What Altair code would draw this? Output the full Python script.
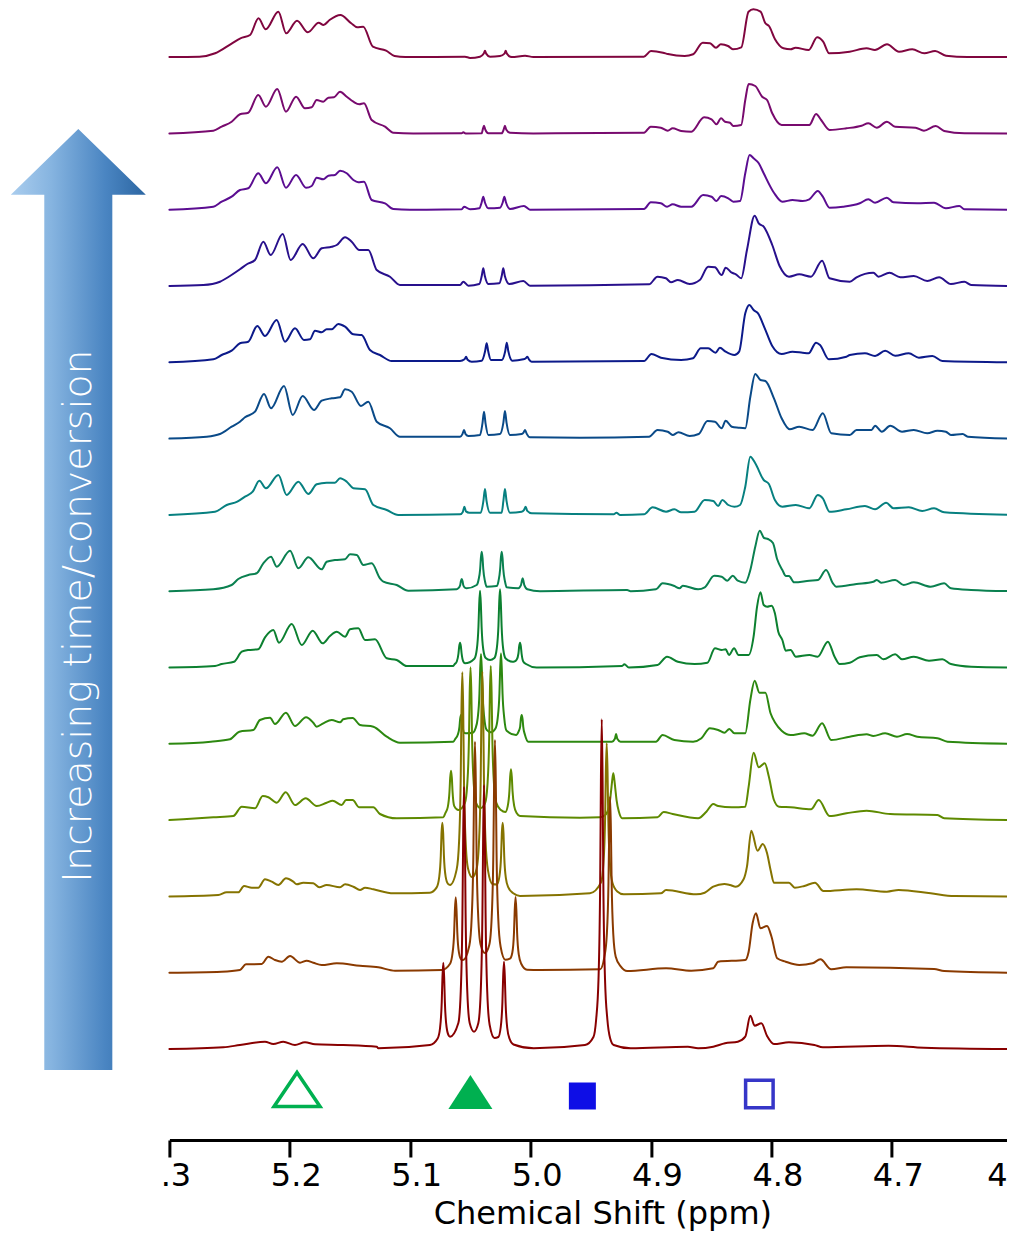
import altair as alt
import pandas as pd

# ---------------- data ----------------
X_TICKS = [5.3, 5.2, 5.1, 5.0, 4.9, 4.8, 4.7, 4.6]
STACK_STEP = 76.3          # vertical offset between consecutive spectra (a.u.)
AXIS_TITLE = "Chemical Shift (ppm)"
ARROW_LABEL = ["Increasing time/conversion"]

# bottom (0, earliest) -> top (13, latest)
LINE_COLORS = ["#880000", "#8a3a00", "#857300", "#5e8a00", "#2c8810", "#0c8030",
               "#0a8050", "#078080", "#0a4a88", "#0c1a8a", "#28108c", "#5b0d91",
               "#780a6e", "#80063f"]

# each spectrum: (chemical shift ppm, intensity a.u.)
SPEC_00 = [(5.300, 0.0), (5.2552, 1.7), (5.2414, 4.0), (5.2206, 7.3), (5.2137, 5.0), (5.2054, 7.3), (5.1957, 4.0), (5.1874, 6.7), (5.1791, 4.7), (5.1556, 4.0), (5.1278, 2.3), (5.1265, 0.7), (5.0836, 4.0),
           (5.0772, 10.5), (5.0752, 21.0), (5.0738, 47.0), (5.0732, 72.0), (5.0725, 86.3), (5.0718, 72.0), (5.0712, 47.0), (5.0698, 22.0), (5.0678, 13.0), (5.0669, 12.3),
           (5.0600, 26.0), (5.0580, 58.0), (5.0566, 136.0), (5.0560, 213.0), (5.0553, 262.3), (5.0546, 213.0), (5.0540, 136.0), (5.0526, 58.0), (5.0506, 26.0), (5.0470, 17.3),
           (5.0434, 26.0), (5.0414, 58.0), (5.0400, 137.0), (5.0394, 214.0), (5.0387, 264.0), (5.0380, 214.0), (5.0374, 136.0), (5.0360, 57.0), (5.0340, 24.0), (5.0300, 11.0),
           (5.0268, 12.0), (5.0248, 22.0), (5.0234, 47.0), (5.0228, 72.0), (5.0221, 87.3), (5.0214, 72.0), (5.0208, 47.0), (5.0194, 21.0), (5.0174, 10.0), (5.0142, 4.5), (4.9974, 0.7),
           (4.9548, 4.0), (4.9478, 12.0), (4.9456, 29.0), (4.9436, 70.0), (4.9422, 169.0), (4.9416, 268.0), (4.9409, 329.7), (4.9402, 268.0), (4.9396, 169.0), (4.9382, 70.0), (4.9362, 29.0), (4.9340, 11.0), (4.9310, 4.0),
           (4.9170, 0.7), (4.8694, 2.3), (4.8609, 0.7), (4.8483, 2.3), (4.8385, 5.7), (4.8279, 7.3), (4.8217, 12.3), (4.8175, 33.3), (4.8139, 23.3), (4.8083, 25.7), (4.8036, 13.0), (4.7979, 5.0), (4.7854, 6.7), (4.7643, 4.0), (4.7573, 1.7), (4.7027, 3.3), (4.6733, 1.3), (4.600, 0.0)]

SPEC_01 = [(5.300, 0.0), (5.2566, 1.0), (5.2414, 2.7), (5.2364, 8.4), (5.2233, 8.7), (5.2178, 16.0), (5.2123, 12.7), (5.2067, 11.0), (5.1998, 16.7), (5.1915, 10.0), (5.1860, 12.0), (5.1805, 10.0), (5.1735, 7.7), (5.1610, 9.4), (5.1417, 7.0), (5.1265, 5.4), (5.1126, 2.0), (5.0738, 2.7),
           (5.0669, 9.0), (5.0649, 19.0), (5.0635, 40.0), (5.0629, 62.0), (5.0622, 75.4), (5.0615, 62.0), (5.0609, 41.0), (5.0595, 20.0), (5.0575, 13.0), (5.0561, 12.7),
           (5.0509, 27.0), (5.0489, 56.0), (5.0475, 122.0), (5.0469, 190.0), (5.0462, 231.0), (5.0455, 190.0), (5.0449, 122.0), (5.0435, 56.0), (5.0415, 28.0), (5.0379, 19.7),
           (5.0343, 28.0), (5.0323, 56.0), (5.0309, 123.0), (5.0303, 191.0), (5.0296, 232.7), (5.0289, 191.0), (5.0283, 122.0), (5.0269, 55.0), (5.0249, 26.0), (5.0210, 13.0),
           (5.0172, 14.0), (5.0152, 20.0), (5.0138, 40.0), (5.0132, 62.0), (5.0125, 75.7), (5.0118, 62.0), (5.0112, 40.0), (5.0098, 18.0), (5.0078, 9.0), (5.0030, 3.0), (4.9922, 2.7),
           (4.9422, 3.4), (4.9387, 16.0), (4.9367, 38.0), (4.9353, 91.0), (4.9347, 143.0), (4.9340, 176.0), (4.9333, 143.0), (4.9327, 91.0), (4.9313, 38.0), (4.9293, 16.0), (4.9250, 6.0), (4.9198, 1.7),
           (4.8875, 4.4), (4.8665, 2.0), (4.8483, 4.4), (4.8442, 11.0), (4.8217, 12.7), (4.8189, 21.0), (4.8156, 49.4), (4.8128, 59.4), (4.8091, 44.4), (4.8036, 46.7), (4.7999, 36.0), (4.7952, 14.4), (4.7881, 11.0), (4.7769, 7.7), (4.7658, 9.4), (4.7593, 13.4), (4.7503, 3.4), (4.7377, 5.4), (4.6649, 3.7), (4.6565, 1.7), (4.600, 0.0)]

SPEC_02 = [(5.300, 0.0), (5.2594, 1.4), (5.2524, 4.1), (5.2428, 4.1), (5.2380, 10.4), (5.2316, 8.7), (5.2262, 8.7), (5.2206, 17.1), (5.2150, 14.7), (5.2095, 11.4), (5.2032, 18.1), (5.1971, 14.7), (5.1943, 12.1), (5.1888, 13.7), (5.1805, 13.1), (5.1755, 9.1), (5.1694, 11.4), (5.1583, 9.1), (5.1541, 12.1), (5.1472, 9.7), (5.1417, 6.4), (5.1375, 8.7), (5.1306, 7.1), (5.1140, 3.1), (5.0836, 3.7),
           (5.0780, 9.0), (5.0760, 18.5), (5.0746, 40.5), (5.0740, 63.0), (5.0733, 73.7), (5.0726, 63.0), (5.0720, 41.0), (5.0706, 20.0), (5.0686, 12.5), (5.0669, 11.4),
           (5.0614, 27.0), (5.0594, 55.0), (5.0580, 122.0), (5.0574, 189.0), (5.0567, 224.1), (5.0560, 189.0), (5.0554, 122.0), (5.0540, 56.0), (5.0520, 28.0), (5.0484, 19.1),
           (5.0448, 28.0), (5.0428, 56.0), (5.0414, 122.0), (5.0408, 189.0), (5.0401, 224.7), (5.0394, 189.0), (5.0388, 122.0), (5.0374, 55.0), (5.0354, 26.0), (5.0317, 12.5),
           (5.0279, 12.0), (5.0259, 20.0), (5.0245, 41.0), (5.0239, 63.0), (5.0232, 73.7), (5.0225, 63.0), (5.0219, 40.0), (5.0205, 18.0), (5.0185, 9.0), (5.0144, 3.1), (5.0088, 0.4),
           (4.9507, 3.1), (4.9415, 14.0), (4.9395, 33.0), (4.9381, 79.0), (4.9375, 125.0), (4.9368, 153.1), (4.9361, 125.0), (4.9355, 79.0), (4.9341, 33.0), (4.9321, 14.0), (4.9280, 5.0), (4.9226, 2.1),
           (4.8918, 3.1), (4.8875, 6.4), (4.8624, 2.1), (4.8554, 3.7), (4.8483, 9.7), (4.8391, 12.4), (4.8344, 11.4), (4.8296, 9.7), (4.8231, 17.1), (4.8203, 29.7), (4.8167, 65.7), (4.8115, 45.7), (4.8072, 52.4), (4.8036, 43.1), (4.8007, 26.4), (4.7979, 13.7), (4.7854, 13.7), (4.7806, 8.7), (4.7727, 10.4), (4.7638, 13.7), (4.7568, 5.4), (4.7293, 7.1), (4.7041, 4.7), (4.6943, 6.4), (4.6677, 3.1), (4.6481, 0.4), (4.600, 0.0)]

SPEC_03 = [(5.300, 0.0), (5.2635, 2.8), (5.2469, 4.1), (5.2399, 13.4), (5.2289, 11.8), (5.2225, 24.1), (5.2178, 22.8), (5.2109, 17.4), (5.2034, 27.8), (5.1957, 15.1), (5.1868, 21.8), (5.1777, 14.1), (5.1694, 17.4), (5.1644, 19.4), (5.1569, 15.1), (5.1533, 20.1), (5.1478, 20.1), (5.1423, 12.8), (5.1306, 12.8), (5.1251, 6.1), (5.1112, 1.8), (5.0725, 2.8),
           (5.0708, 7.0), (5.0688, 13.0), (5.0674, 28.0), (5.0668, 42.0), (5.0661, 49.4), (5.0654, 42.0), (5.0648, 28.0), (5.0634, 14.0), (5.0600, 10.1),
           (5.0546, 17.0), (5.0526, 36.0), (5.0512, 81.0), (5.0506, 127.0), (5.0499, 152.8), (5.0492, 127.0), (5.0486, 81.0), (5.0472, 36.0), (5.0452, 17.0), (5.0416, 12.0),
           (5.0378, 17.0), (5.0358, 36.0), (5.0344, 82.0), (5.0338, 128.0), (5.0331, 154.1), (5.0324, 128.0), (5.0318, 82.0), (5.0304, 36.0), (5.0284, 17.0), (5.0246, 10.0),
           (5.0210, 8.0), (5.0190, 14.0), (5.0176, 29.0), (5.0170, 43.0), (5.0163, 50.8), (5.0156, 43.0), (5.0150, 29.0), (5.0136, 14.0), (5.0116, 7.0), (5.0088, 4.0),
           (4.9590, 2.4), (4.9422, 2.8), (4.9380, 5.0), (4.9360, 9.0), (4.9340, 20.0), (4.9330, 31.0), (4.9322, 40.0), (4.9313, 46.8), (4.9304, 40.0), (4.9296, 31.0), (4.9286, 20.0), (4.9266, 8.0), (4.9240, 1.8),
           (4.8946, 2.8), (4.8895, 8.1), (4.8820, 6.1), (4.8609, 1.8), (4.8540, 8.4), (4.8483, 16.1), (4.8442, 14.1), (4.8329, 12.8), (4.8217, 13.4), (4.8189, 33.4), (4.8148, 67.4), (4.8105, 52.8), (4.8055, 56.8), (4.8021, 43.4), (4.7979, 20.1), (4.7937, 13.4), (4.7840, 12.8), (4.7671, 10.8), (4.7607, 20.1), (4.7517, 4.1), (4.7377, 6.8), (4.7209, 9.4), (4.7013, 6.1), (4.6621, 5.1), (4.6565, 1.8), (4.600, 0.0)]

SPEC_04 = [(5.300, 0.0), (5.2656, 2.1), (5.2497, 4.5), (5.2419, 12.1), (5.2303, 13.8), (5.2248, 23.8), (5.2164, 26.1), (5.2123, 19.8), (5.2032, 31.1), (5.1957, 17.8), (5.1865, 26.5), (5.1805, 21.1), (5.1777, 17.1), (5.1722, 20.5), (5.1652, 23.8), (5.1583, 21.5), (5.1556, 24.5), (5.1478, 25.8), (5.1417, 18.8), (5.1306, 17.1), (5.1195, 7.1), (5.1085, 1.1),
           (5.0642, 2.1), (5.0625, 5.0), (5.0605, 9.0), (5.0591, 17.0), (5.0585, 25.0), (5.0578, 28.8), (5.0571, 25.0), (5.0565, 18.0), (5.0551, 11.0), (5.0531, 10.5),
           (5.0480, 11.0), (5.0459, 15.0), (5.0439, 26.0), (5.0425, 50.0), (5.0419, 74.0), (5.0412, 89.8), (5.0405, 74.0), (5.0399, 50.0), (5.0385, 26.0), (5.0365, 14.0), (5.0329, 11.5),
           (5.0293, 15.0), (5.0273, 26.0), (5.0259, 50.0), (5.0253, 74.0), (5.0246, 90.5), (5.0239, 74.0), (5.0233, 50.0), (5.0219, 26.0), (5.0199, 13.0), (5.0121, 8.8),
           (5.0101, 12.0), (5.0087, 17.0), (5.0081, 25.0), (5.0074, 28.8), (5.0067, 25.0), (5.0061, 17.0), (5.0047, 9.0), (5.0019, 2.1),
           (4.9324, 2.1), (4.9300, 5.0), (4.9290, 9.8), (4.9280, 5.0), (4.9253, 2.1), (4.8959, 2.1), (4.8904, 8.8), (4.8806, 3.8), (4.8651, 2.1), (4.8581, 5.5), (4.8511, 15.5), (4.8442, 13.8), (4.8391, 11.1), (4.8349, 14.8), (4.8307, 10.5), (4.8217, 10.5), (4.8175, 43.8), (4.8139, 63.1), (4.8099, 51.1), (4.8050, 51.1), (4.8007, 30.5), (4.7966, 20.5), (4.7915, 13.1), (4.7840, 8.8), (4.7727, 10.5), (4.7658, 8.1), (4.7579, 20.5), (4.7503, 3.8), (4.7349, 7.1), (4.7209, 9.5), (4.7153, 7.8), (4.7055, 10.5), (4.6957, 7.1), (4.6873, 9.8), (4.6789, 7.1), (4.6621, 5.5), (4.6537, 2.1), (4.600, 0.0)]

SPEC_05 = [(5.300, 0.0), (5.2621, 1.5), (5.2566, 3.5), (5.2463, 5.8), (5.2399, 15.8), (5.2345, 17.5), (5.2262, 18.2), (5.2206, 30.2), (5.2137, 37.5), (5.2090, 24.8), (5.1984, 43.5), (5.1901, 22.5), (5.1810, 36.8), (5.1727, 24.2), (5.1666, 31.5), (5.1610, 35.8), (5.1541, 30.8), (5.1500, 38.2), (5.1431, 39.2), (5.1375, 27.5), (5.1292, 28.2), (5.1195, 9.2), (5.1112, 7.5), (5.1029, 1.5),
           (5.0642, 1.5), (5.0633, 3.0), (5.0613, 6.0), (5.0599, 14.0), (5.0593, 21.0), (5.0586, 24.8), (5.0579, 21.0), (5.0573, 14.0), (5.0559, 6.0), (5.0545, 4.2),
           (5.0467, 8.8), (5.0447, 18.0), (5.0433, 41.0), (5.0427, 63.0), (5.0420, 76.8), (5.0413, 63.0), (5.0407, 41.0), (5.0393, 18.0), (5.0373, 9.5), (5.0337, 7.5),
           (5.0301, 9.5), (5.0281, 19.0), (5.0267, 42.0), (5.0261, 64.0), (5.0254, 78.2), (5.0247, 64.0), (5.0241, 42.0), (5.0227, 18.0), (5.0207, 9.0), (5.0150, 5.8),
           (5.0135, 6.0), (5.0115, 8.0), (5.0101, 14.0), (5.0095, 21.0), (5.0088, 24.8), (5.0081, 21.0), (5.0075, 14.0), (5.0061, 6.0), (5.0038, 3.5), (4.9950, 0.0),
           (4.9240, 1.5), (4.9221, 3.2), (4.9184, 0.0), (4.8946, 2.5), (4.8867, 10.8), (4.8777, 5.8), (4.8638, 3.5), (4.8531, 4.8), (4.8469, 19.2), (4.8413, 17.5), (4.8380, 18.2), (4.8352, 12.5), (4.8310, 19.2), (4.8273, 12.5), (4.8189, 12.5), (4.8148, 30.8), (4.8119, 60.8), (4.8091, 75.2), (4.8064, 62.5), (4.8036, 60.8), (4.7999, 61.8), (4.7971, 54.2), (4.7943, 35.8), (4.7909, 27.5), (4.7881, 16.8), (4.7840, 17.5), (4.7797, 10.8), (4.7685, 12.5), (4.7615, 10.8), (4.7531, 25.8), (4.7475, 10.8), (4.7433, 3.5), (4.7349, 4.8), (4.7266, 10.2), (4.7125, 12.5), (4.7070, 8.2), (4.6972, 13.2), (4.6915, 8.2), (4.6817, 10.8), (4.6691, 6.8), (4.6580, 8.2), (4.6509, 3.5), (4.6341, 0.8), (4.600, 0.0)]

SPEC_06 = [(5.300, 0.0), (5.2635, 1.9), (5.2483, 6.2), (5.2428, 12.2), (5.2345, 16.2), (5.2275, 17.9), (5.2220, 27.9), (5.2156, 34.5), (5.2109, 24.5), (5.1998, 40.5), (5.1929, 22.9), (5.1846, 33.9), (5.1735, 21.9), (5.1694, 29.5), (5.1625, 31.2), (5.1541, 31.9), (5.1500, 36.9), (5.1444, 36.2), (5.1389, 26.2), (5.1320, 27.9), (5.1251, 12.9), (5.1223, 9.5), (5.1112, 6.2), (5.1016, 0.5),
           (5.0614, 1.9), (5.0600, 3.0), (5.0585, 6.0), (5.0579, 10.0), (5.0572, 12.2), (5.0565, 10.0), (5.0559, 6.0), (5.0545, 3.5), (5.0531, 2.9),
           (5.0448, 6.2), (5.0433, 11.0), (5.0419, 22.0), (5.0413, 33.0), (5.0406, 39.5), (5.0399, 33.0), (5.0393, 22.0), (5.0379, 10.0), (5.0365, 4.5),
           (5.0282, 5.2), (5.0267, 10.0), (5.0253, 22.0), (5.0247, 33.0), (5.0240, 39.5), (5.0233, 33.0), (5.0227, 22.0), (5.0213, 10.0), (5.0198, 3.9),
           (5.0102, 2.9), (5.0080, 6.0), (5.0073, 10.0), (5.0066, 12.9), (5.0059, 10.0), (5.0052, 6.0), (5.0027, 1.9), (4.9922, 0.0),
           (4.9198, 1.2), (4.9170, 0.0), (4.8959, 1.9), (4.8904, 7.9), (4.8806, 5.2), (4.8763, 2.9), (4.8736, 5.5), (4.8609, 1.9), (4.8554, 3.9), (4.8475, 15.5), (4.8413, 14.5), (4.8366, 10.5), (4.8321, 15.5), (4.8279, 10.5), (4.8217, 8.5), (4.8175, 21.2), (4.8134, 44.5), (4.8097, 60.5), (4.8061, 53.2), (4.8028, 52.2), (4.7987, 48.2), (4.7952, 31.9), (4.7909, 21.2), (4.7879, 15.2), (4.7854, 15.2), (4.7811, 8.9), (4.7685, 10.5), (4.7613, 11.2), (4.7546, 21.2), (4.7489, 7.9), (4.7462, 4.5), (4.7293, 7.2), (4.7153, 9.5), (4.7125, 11.2), (4.7089, 8.5), (4.6972, 11.2), (4.6901, 6.2), (4.6817, 8.9), (4.6677, 4.5), (4.6565, 7.9), (4.6509, 2.9), (4.6341, 1.2), (4.600, 0.0)]

SPEC_07 = [(5.300, 0.0), (5.2621, 3.2), (5.2524, 9.9), (5.2436, 13.2), (5.2372, 18.2), (5.2308, 23.2), (5.2253, 34.2), (5.2198, 26.6), (5.2095, 39.9), (5.2026, 19.9), (5.1929, 33.2), (5.1846, 20.9), (5.1777, 30.6), (5.1694, 32.2), (5.1625, 32.2), (5.1583, 36.6), (5.1527, 33.2), (5.1472, 26.6), (5.1375, 25.6), (5.1306, 9.9), (5.1195, 4.9), (5.1099, 0.0),
           (5.0586, 0.6), (5.0563, 3.0), (5.0550, 8.2), (5.0537, 3.5), (5.0509, 2.2), (5.0414, 2.2), (5.0392, 14.0), (5.0379, 25.9), (5.0366, 14.0), (5.0337, 2.2), (5.0240, 2.2), (5.0226, 14.0), (5.0213, 25.9), (5.0200, 14.0), (5.0171, 2.2), (5.0074, 3.2), (5.0054, 5.0), (5.0041, 8.2), (5.0028, 4.0), (4.9991, 1.6),
           (4.9310, 0.6), (4.9287, 2.2), (4.9259, 0.0), (4.9058, 0.6), (4.8987, 7.6), (4.8875, 3.2), (4.8806, 5.6), (4.8750, 2.6), (4.8638, 3.2), (4.8554, 14.9), (4.8483, 13.9), (4.8442, 8.9), (4.8408, 14.9), (4.8358, 9.9), (4.8307, 8.2), (4.8260, 9.9), (4.8217, 28.2), (4.8175, 58.2), (4.8134, 51.6), (4.8064, 34.9), (4.8021, 30.9), (4.7971, 14.9), (4.7909, 8.2), (4.7797, 9.9), (4.7685, 6.6), (4.7615, 19.9), (4.7573, 16.6), (4.7517, 3.2), (4.7377, 5.6), (4.7223, 8.9), (4.7139, 5.6), (4.7047, 12.2), (4.6986, 6.6), (4.6859, 7.6), (4.6747, 3.9), (4.6649, 6.6), (4.6565, 2.6), (4.600, 0.0)]

SPEC_08 = [(5.300, 0.0), (5.2690, 1.9), (5.2580, 4.6), (5.2483, 11.9), (5.2414, 16.9), (5.2372, 21.3), (5.2289, 26.9), (5.2214, 44.6), (5.2156, 30.3), (5.2048, 52.6), (5.1976, 23.6), (5.1893, 42.6), (5.1799, 28.6), (5.1735, 37.9), (5.1652, 40.3), (5.1583, 41.3), (5.1541, 49.3), (5.1486, 46.9), (5.1409, 32.6), (5.1348, 36.9), (5.1278, 16.9), (5.1168, 10.3), (5.1085, 1.9),
           (5.0586, 1.9), (5.0566, 4.5), (5.0553, 8.6), (5.0540, 4.5), (5.0517, 2.6), (5.0420, 3.6), (5.0400, 15.0), (5.0387, 26.9), (5.0374, 15.0), (5.0351, 3.6), (5.0254, 4.6), (5.0226, 16.0), (5.0213, 27.6), (5.0200, 16.0), (5.0171, 3.6), (5.0074, 4.6), (5.0059, 6.0), (5.0046, 8.6), (5.0033, 5.0), (5.0005, 1.3),
           (4.9590, 0.9), (4.9016, 1.9), (4.8946, 8.6), (4.8861, 6.9), (4.8820, 3.6), (4.8772, 6.3), (4.8679, 2.6), (4.8604, 4.6), (4.8531, 17.6), (4.8469, 16.9), (4.8413, 10.3), (4.8380, 17.9), (4.8329, 11.9), (4.8273, 10.9), (4.8217, 10.3), (4.8175, 41.9), (4.8134, 64.6), (4.8091, 58.6), (4.8050, 57.6), (4.7979, 40.3), (4.7915, 20.3), (4.7848, 9.3), (4.7769, 11.9), (4.7658, 8.6), (4.7573, 25.3), (4.7503, 5.3), (4.7349, 3.6), (4.7293, 8.6), (4.7168, 8.6), (4.7139, 12.9), (4.7083, 6.9), (4.7013, 12.9), (4.6915, 6.9), (4.6817, 8.6), (4.6705, 5.3), (4.6621, 7.9), (4.6551, 6.9), (4.6509, 3.6), (4.6411, 4.6), (4.6369, 1.9), (4.600, 0.0)]

SPEC_09 = [(5.300, 0.0), (5.2635, 3.0), (5.2566, 7.3), (5.2483, 11.6), (5.2414, 19.0), (5.2345, 20.6), (5.2270, 36.3), (5.2206, 26.3), (5.2109, 42.3), (5.2040, 20.6), (5.1957, 34.0), (5.1882, 22.3), (5.1832, 23.0), (5.1791, 31.6), (5.1735, 30.0), (5.1694, 33.0), (5.1652, 33.0), (5.1597, 38.3), (5.1541, 35.6), (5.1472, 28.0), (5.1403, 27.3), (5.1334, 12.3), (5.1251, 7.3), (5.1154, 1.3),
           (5.0586, 1.3), (5.0549, 3.0), (5.0536, 5.6), (5.0523, 2.5), (5.0489, 0.6), (5.0406, 1.6), (5.0378, 11.0), (5.0365, 19.0), (5.0352, 11.0), (5.0329, 2.3), (5.0240, 2.3), (5.0211, 11.0), (5.0198, 19.6), (5.0185, 11.0), (5.0152, 1.6), (5.0060, 3.0), (5.0040, 4.0), (5.0027, 5.6), (5.0014, 3.0), (4.9991, 0.6),
           (4.9058, 1.3), (4.8996, 8.3), (4.8918, 4.6), (4.8750, 2.3), (4.8651, 4.0), (4.8587, 14.0), (4.8525, 14.0), (4.8464, 9.6), (4.8428, 14.6), (4.8380, 10.6), (4.8307, 7.3), (4.8268, 10.6), (4.8217, 49.0), (4.8183, 57.3), (4.8148, 52.3), (4.8111, 49.0), (4.8055, 34.0), (4.7993, 16.3), (4.7915, 8.3), (4.7825, 10.6), (4.7741, 9.6), (4.7691, 9.0), (4.7629, 19.6), (4.7596, 17.3), (4.7523, 3.0), (4.7377, 5.6), (4.7349, 7.3), (4.7223, 9.0), (4.7139, 6.3), (4.7055, 11.6), (4.6972, 6.6), (4.6859, 9.0), (4.6775, 4.6), (4.6663, 6.3), (4.6580, 1.3), (4.600, 0.0)]

SPEC_10 = [(5.300, 0.0), (5.2718, 1.0), (5.2580, 4.3), (5.2497, 10.0), (5.2414, 16.7), (5.2353, 22.0), (5.2289, 26.0), (5.2220, 44.3), (5.2159, 31.0), (5.2059, 52.0), (5.1993, 26.0), (5.1893, 42.0), (5.1805, 27.7), (5.1735, 37.7), (5.1652, 39.3), (5.1610, 41.0), (5.1541, 48.7), (5.1486, 44.3), (5.1423, 36.0), (5.1348, 36.0), (5.1278, 16.0), (5.1168, 9.3), (5.1085, 1.0),
           (5.0586, 1.0), (5.0559, 4.3), (5.0517, 0.3), (5.0426, 2.0), (5.0406, 10.0), (5.0393, 17.7), (5.0380, 10.0), (5.0351, 2.0), (5.0260, 2.7), (5.0240, 10.0), (5.0227, 17.7), (5.0214, 10.0), (5.0177, 2.0), (5.0060, 5.0), (5.0005, 0.3),
           (4.9016, 1.7), (4.8946, 9.3), (4.8876, 7.7), (4.8834, 3.7), (4.8777, 6.0), (4.8679, 2.0), (4.8595, 6.0), (4.8525, 19.3), (4.8469, 18.7), (4.8413, 11.0), (4.8380, 18.3), (4.8329, 13.3), (4.8295, 11.7), (4.8251, 7.7), (4.8203, 36.0), (4.8139, 70.3), (4.8105, 62.7), (4.8064, 59.3), (4.7993, 41.0), (4.7932, 20.0), (4.7854, 9.3), (4.7769, 11.7), (4.7671, 9.3), (4.7579, 25.3), (4.7517, 7.7), (4.7349, 4.3), (4.7293, 8.7), (4.7153, 13.3), (4.7111, 9.3), (4.7019, 13.3), (4.6929, 8.7), (4.6817, 10.0), (4.6705, 5.0), (4.6607, 8.7), (4.6509, 2.0), (4.6397, 4.3), (4.6341, 1.0), (4.600, 0.0)]

SPEC_11 = [(5.300, 0.0), (5.2635, 3.0), (5.2566, 8.0), (5.2483, 13.0), (5.2414, 19.7), (5.2345, 21.4), (5.2262, 36.4), (5.2198, 26.4), (5.2104, 42.4), (5.2032, 22.0), (5.1948, 34.7), (5.1865, 22.0), (5.1818, 23.7), (5.1777, 32.0), (5.1722, 30.4), (5.1680, 34.0), (5.1625, 34.7), (5.1583, 39.0), (5.1527, 36.4), (5.1472, 29.7), (5.1431, 27.4), (5.1384, 28.0), (5.1320, 9.7), (5.1209, 6.4), (5.1140, 0.7), (5.1002, 0.0),
           (5.0572, 0.4), (5.0553, 3.0), (5.0503, 0.4), (5.0426, 1.4), (5.0406, 7.5), (5.0393, 13.0), (5.0380, 7.5), (5.0351, 1.4), (5.0254, 2.0), (5.0231, 7.5), (5.0218, 13.0), (5.0205, 7.5), (5.0171, 0.7), (5.0055, 3.7), (5.0005, 0.0),
           (4.9058, 0.7), (4.9002, 7.4), (4.8918, 6.4), (4.8867, 3.0), (4.8820, 5.4), (4.8750, 3.0), (4.8665, 3.0), (4.8567, 14.7), (4.8497, 13.0), (4.8456, 8.7), (4.8418, 13.7), (4.8358, 11.4), (4.8316, 8.0), (4.8260, 8.7), (4.8217, 36.4), (4.8181, 54.7), (4.8148, 51.4), (4.8105, 46.4), (4.8064, 36.4), (4.7979, 17.0), (4.7909, 8.0), (4.7825, 9.7), (4.7741, 8.7), (4.7685, 10.4), (4.7615, 18.7), (4.7573, 13.0), (4.7517, 2.0), (4.7405, 3.0), (4.7266, 6.4), (4.7195, 10.4), (4.7139, 7.0), (4.7041, 12.0), (4.6986, 7.4), (4.6789, 6.4), (4.6649, 7.0), (4.6551, 1.4), (4.6439, 3.7), (4.6397, 0.4), (4.600, 0.0)]

SPEC_12 = [(5.300, 0.0), (5.2635, 2.7), (5.2566, 6.7), (5.2483, 11.7), (5.2414, 19.1), (5.2345, 20.7), (5.2262, 38.4), (5.2198, 26.7), (5.2104, 44.4), (5.2032, 21.7), (5.1948, 36.7), (5.1874, 25.1), (5.1818, 26.1), (5.1777, 33.4), (5.1722, 31.7), (5.1680, 35.7), (5.1633, 36.1), (5.1583, 41.7), (5.1527, 36.7), (5.1472, 31.7), (5.1423, 29.1), (5.1384, 30.1), (5.1320, 13.4), (5.1209, 6.7), (5.1140, 0.7), (5.0974, 0.0),
           (5.0572, 0.1), (5.0559, 1.1), (5.0540, 0.0), (5.0406, 0.1), (5.0397, 4.0), (5.0387, 7.7), (5.0377, 4.0), (5.0351, 0.1), (5.0240, 0.1), (5.0223, 4.0), (5.0213, 7.7), (5.0203, 4.0), (5.0171, 0.7), (4.9977, 0.0),
           (4.9058, 0.7), (4.9002, 6.7), (4.8918, 5.7), (4.8861, 2.7), (4.8820, 5.1), (4.8750, 2.4), (4.8665, 1.7), (4.8559, 16.1), (4.8497, 14.1), (4.8456, 9.1), (4.8418, 15.1), (4.8385, 11.7), (4.8344, 10.7), (4.8316, 7.4), (4.8251, 8.4), (4.8217, 33.4), (4.8189, 49.4), (4.8134, 47.4), (4.8077, 36.7), (4.8036, 33.4), (4.7993, 20.1), (4.7915, 8.4), (4.7685, 8.4), (4.7629, 19.4), (4.7587, 13.4), (4.7517, 3.4), (4.7377, 5.1), (4.7251, 7.7), (4.7195, 10.1), (4.7125, 5.7), (4.7041, 11.7), (4.6972, 6.7), (4.6803, 5.7), (4.6733, 2.7), (4.6635, 7.4), (4.6565, 2.4), (4.6397, 0.1), (4.600, 0.0)]

SPEC_13 = [(5.300, 0.0), (5.275, 0.4), (5.262, 3.8), (5.248, 13.8), (5.241, 18.8), (5.233, 22.1), (5.226, 38.8), (5.220, 27.8), (5.2095, 45.4), (5.203, 23.8), (5.194, 36.4), (5.185, 24.8), (5.176, 34.4), (5.172, 32.1), (5.167, 37.1), (5.158, 42.1), (5.149, 33.8), (5.144, 29.8), (5.139, 30.4), (5.131, 10.4), (5.120, 6.4), (5.113, 1.1), (5.104, 0.0),
           (5.0545, 0.4), (5.0503, -0.8), (5.0420, 0.4), (5.0389, 3.5), (5.0379, 6.4), (5.0369, 3.5), (5.0337, 0.4), (5.0254, 1.1), (5.0217, 3.5), (5.0207, 6.4), (5.0197, 3.5), (5.0157, 0.0), (5.0046, 1.4), (4.9977, 0.0),
           (4.906, 0.4), (4.900, 6.1), (4.890, 4.4), (4.886, 3.1), (4.872, 1.1), (4.865, 2.8), (4.857, 14.4), (4.851, 13.8), (4.846, 9.4), (4.842, 12.8), (4.836, 11.1), (4.832, 7.8), (4.825, 9.8), (4.819, 45.4), (4.815, 47.8), (4.809, 45.4), (4.805, 33.8), (4.802, 31.1), (4.797, 17.8), (4.790, 8.8), (4.784, 7.8), (4.780, 9.4), (4.769, 7.1), (4.762, 19.8), (4.757, 15.4), (4.752, 3.8), (4.735, 5.4), (4.721, 8.8), (4.714, 7.1), (4.704, 12.8), (4.694, 5.4), (4.683, 7.8), (4.673, 3.8), (4.664, 6.1), (4.655, 1.4), (4.637, 0.0), (4.600, 0.0)]

SPECTRA = [SPEC_00, SPEC_01, SPEC_02, SPEC_03, SPEC_04, SPEC_05, SPEC_06,
           SPEC_07, SPEC_08, SPEC_09, SPEC_10, SPEC_11, SPEC_12, SPEC_13]

# assignment markers under the spectra
MARKER_PPM = [5.194, 5.050, 4.957, 4.810]
MARKER_LEVEL = [-40.5, -43.0, -47.0, -45.0]

# ---------------- scales & axis ----------------
x_scale = alt.Scale(domain=[4.6, 5.3], reverse=True, nice=False, zero=False)
y_scale = alt.Scale(domain=[-91, 1041], nice=False, zero=False)

x_axis = alt.Axis(
    values=X_TICKS,
    labelExpr=("abs(datum.value - 5.3) < 0.001 ? '\u2007.3' : "
               "(abs(datum.value - 4.6) < 0.001 ? '4' : format(datum.value, '.1f'))"),
    labelFont="DejaVu Sans", labelFontSize=32, labelColor="black",
    labelBaseline="alphabetic", labelPadding=28,
    labelOffset={"condition": {"test": "datum.value < 4.65", "value": -5}, "value": 6},
    labelAlign={"condition": {"test": "datum.value < 4.65", "value": "right"}, "value": "center"},
    labelFlush=False, labelOverlap=False,
    tickSize=17, tickWidth=3, tickColor="black",
    domainWidth=3, domainColor="black", grid=False,
    title=AXIS_TITLE, titleFont="DejaVu Sans", titleFontSize=32,
    titleFontWeight="normal", titleColor="black",
    titleX=433, titleY=83, titleBaseline="alphabetic", titleAlign="center",
)


def x_enc():
    return alt.X("ppm:Q", scale=x_scale, axis=x_axis)


def y_enc(field):
    return alt.Y(field, type="quantitative", scale=y_scale, axis=None)


# ---------------- arrow + label ----------------
ARROW_PATH = ("M0,-1L0.1435,-0.86L0.0723,-0.86L0.0723,1L-0.0723,1"
              "L-0.0723,-0.86L-0.1435,-0.86Z")
arrow_fill = {
    "gradient": "linear", "x1": 0, "y1": 0, "x2": 1, "y2": 0,
    "stops": [
        {"offset": 0, "color": "#aacdee"},
        {"offset": 0.3, "color": "#86b4e0"},
        {"offset": 0.7, "color": "#4a85c2"},
        {"offset": 1, "color": "#2c66a2"},
    ],
}
label_df = pd.DataFrame({"label": ARROW_LABEL})
arrow = alt.Chart(label_df).mark_point(
    shape=ARROW_PATH, size=941 * 941, filled=True, fill=arrow_fill,
    strokeWidth=0, opacity=1,
).encode(x=alt.value(-91.1), y=alt.value(591.4))

arrow_text = alt.Chart(label_df).mark_text(
    angle=270, align="center", baseline="middle", font="DejaVu Sans",
    fontSize=39.5, fontWeight=300, color="white",
).encode(text="label:N", x=alt.value(-90.6), y=alt.value(608))

# ---------------- spectra ----------------
line_layers = []
for i in range(len(SPECTRA) - 1, -1, -1):
    pts = sorted(SPECTRA[i], key=lambda p: -p[0])
    df = pd.DataFrame({
        "ppm": [p[0] for p in pts],
        "y": [p[1] + i * STACK_STEP for p in pts],
        "k": list(range(len(pts))),
    })
    line_layers.append(
        alt.Chart(df).mark_line(
            color=LINE_COLORS[i], strokeWidth=2, interpolate="monotone",
            strokeJoin="round", strokeCap="round",
        ).encode(x=x_enc(), y=y_enc("y"), order=alt.Order("k:Q"))
    )

# ---------------- markers ----------------
def marker_df(j):
    return pd.DataFrame({"ppm": [MARKER_PPM[j]], "lvl": [MARKER_LEVEL[j]]})


m_open_tri = alt.Chart(marker_df(0)).mark_point(
    shape="M0,-0.74L1,0.74L-1,0.74Z", size=2116, filled=False,
    color="#00b050", strokeWidth=3.5, opacity=1, strokeJoin="miter",
).encode(x=x_enc(), y=y_enc("lvl"))
m_fill_tri = alt.Chart(marker_df(1)).mark_point(
    shape="M0,-0.77L1,0.77L-1,0.77Z", size=1936, filled=True,
    color="#00b050", strokeWidth=0, opacity=1,
).encode(x=x_enc(), y=y_enc("lvl"))
m_fill_sq = alt.Chart(marker_df(2)).mark_point(
    shape="square", size=729, filled=True, color="#0e0ee6",
    strokeWidth=0, opacity=1,
).encode(x=x_enc(), y=y_enc("lvl"))
m_open_sq = alt.Chart(marker_df(3)).mark_point(
    shape="square", size=756, filled=False, color="#3636c8",
    strokeWidth=3.5, opacity=1,
).encode(x=x_enc(), y=y_enc("lvl"))

# svg kept to 999 x 1223 so that the page (8 px margins) fits the window
chart = alt.layer(
    arrow, arrow_text, *line_layers, m_open_tri, m_fill_tri, m_fill_sq, m_open_sq
).properties(
    width=842.8, height=1132,
    autosize=alt.AutoSizeParams(type="none"),
    padding={"left": 161.4, "top": 0, "right": -5.2, "bottom": 91},
    background="white",
).configure_view(stroke=None)

chart.save("out.html", embed_options={"renderer": "svg", "actions": False})
